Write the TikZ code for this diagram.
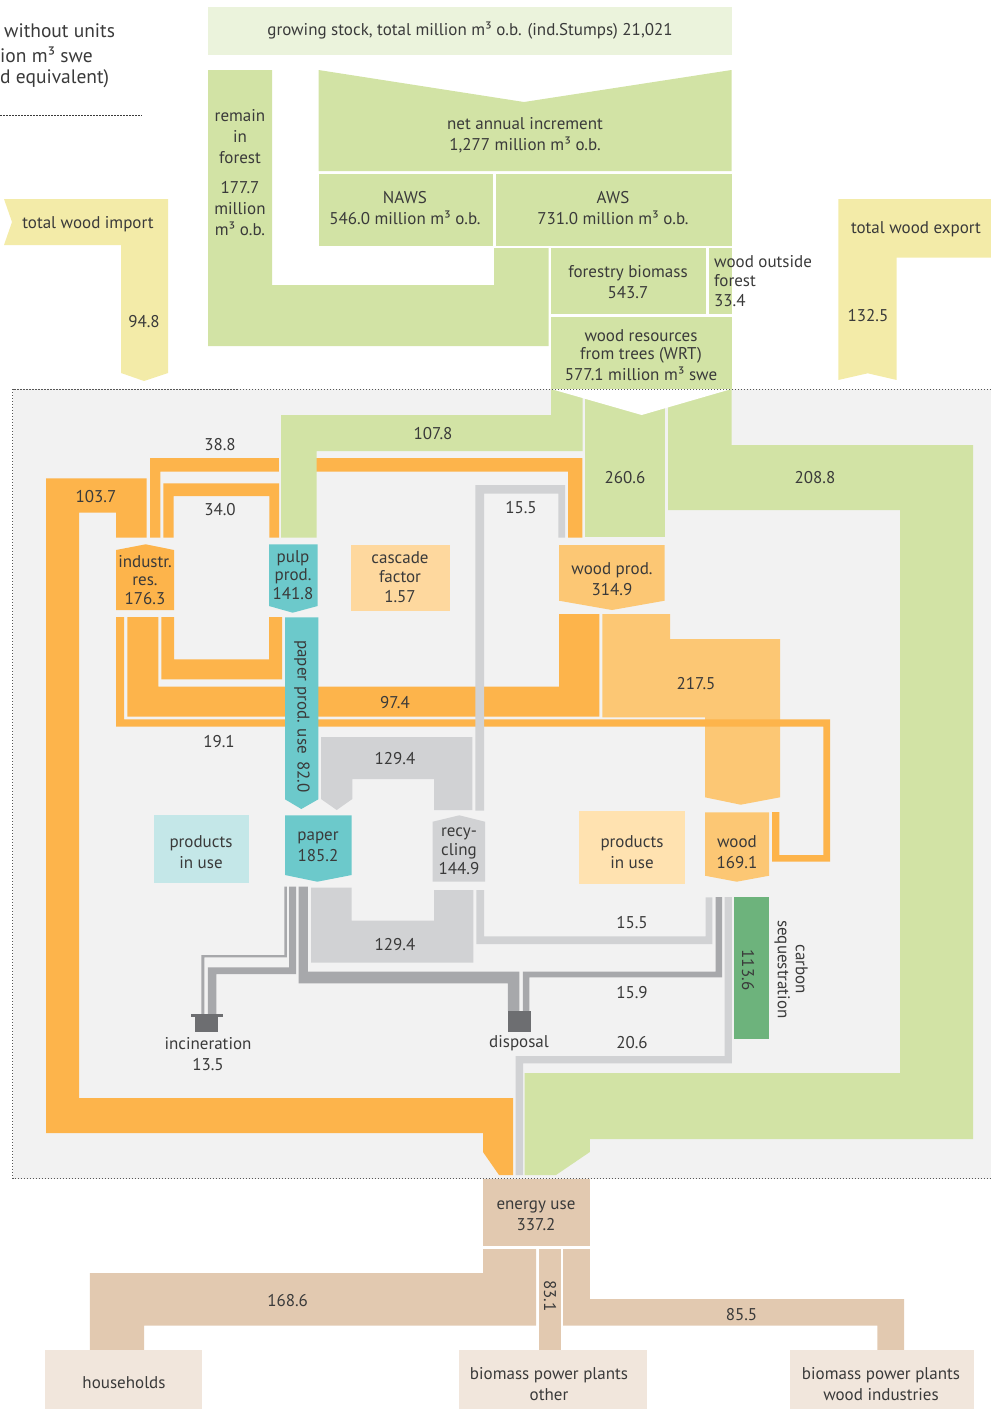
\documentclass[tikz,border=0pt]{standalone}
\usepackage{fontspec}
\setmainfont{PT Sans}

\definecolor{stockgreen}{HTML}{EBF3DC}
\definecolor{flowgreen}{HTML}{D2E3A5}
\definecolor{tradeyellow}{HTML}{F3EBA8}
\definecolor{resorange}{HTML}{FDB44B}
\definecolor{prodorange}{HTML}{FCC774}
\definecolor{cascorange}{HTML}{FED89E}
\definecolor{useorange}{HTML}{FFE2B0}
\definecolor{paperteal}{HTML}{6CC9CB}
\definecolor{useteal}{HTML}{C4E7E8}
\definecolor{recgrey}{HTML}{D1D2D4}
\definecolor{wastegrey}{HTML}{A7A8AB}
\definecolor{sinkgrey}{HTML}{6D6E71}
\definecolor{carbongreen}{HTML}{6DB37C}
\definecolor{energytan}{HTML}{E2C9B0}
\definecolor{endusetan}{HTML}{F1E6DC}
\definecolor{panelgrey}{HTML}{F2F2F2}
\definecolor{txt}{HTML}{3A3A3A}

\begin{document}
\begin{tikzpicture}[x=1pt, y=-1pt,
    lbl/.style={font=\fontsize{17}{21}\selectfont, text=txt, align=center, inner sep=0pt},
    tight/.style={lbl, font=\fontsize{17}{18.5}\selectfont}]
  \useasboundingbox (0,0) rectangle (991,1409);

  % legend text, cut at the left edge
  \node[lbl, font=\fontsize{19.5}{24}\selectfont, anchor=west] (unitsa) at (4,31) {without units};
  \node[lbl, font=\fontsize{19.5}{24}\selectfont, anchor=west] (unitsb) at (0,55) {ion m³ swe};
  \node[lbl, font=\fontsize{19.5}{24}\selectfont, anchor=west] (unitsc) at (0,79) {d equivalent)};
  \draw[txt, line width=1pt, dash pattern=on 1.5pt off 1.5pt] (0,115) -- (142,115);

  % forest
  \fill[stockgreen] (208,7) rectangle (732,55);
  \fill[flowgreen] (208,70) -- (272,70) -- (272,285) -- (494,285) -- (494,248)
    -- (548.5,248) -- (548.5,346) -- (208,346) -- cycle;
  \fill[flowgreen] (318.5,70) -- (524,102) -- (731.5,70) -- (731.5,171) -- (318.5,171) -- cycle;
  \fill[flowgreen] (318.5,173.5) rectangle (492.5,245.5);
  \fill[flowgreen] (495.5,173.5) rectangle (731.5,245.5);
  \fill[flowgreen] (551,248) rectangle (705.5,313.5);
  \fill[flowgreen] (709,248) rectangle (731.5,313.5);
  \fill[flowgreen] (551,317) rectangle (731.5,390);

  % trade
  \fill[tradeyellow] (4,199) -- (168,199) -- (168,373) -- (144,381) -- (121,373)
    -- (121,245) -- (4,245) -- (12,222) -- cycle;
  \fill[tradeyellow] (838.3,199) -- (991,199) -- (991,257.7) -- (896.7,257.7)
    -- (896.7,380) -- (867.7,373.3) -- (838.3,380) -- cycle;

  % system panel
  \fill[panelgrey] (12.5,389) rectangle (991,1178.5);

  % residues and wood products
  \fill[resorange] (146.7,537.7) -- (146.7,478.3) -- (46,478.3) -- (46,1133) -- (483,1133)
    -- (483,1152) -- (499,1175) -- (513,1175) -- (513,1098) -- (79,1098) -- (79,512.7)
    -- (116,512.7) -- (116,537.7) -- cycle;
  \fill[resorange] (150,537.7) -- (150,458) -- (582.3,458) -- (582.3,537.7) -- (568,537.7)
    -- (568,471.7) -- (160.3,471.7) -- (160.3,537.7) -- cycle;
  \fill[resorange] (163.3,537.7) -- (163.3,483.3) -- (279,483.3) -- (279,537.7)
    -- (269.3,537.7) -- (269.3,496) -- (173.7,496) -- (173.7,537.7) -- cycle;
  \fill[resorange] (161.3,617) -- (174,617) -- (174,659.3) -- (269,659.3) -- (269,617)
    -- (282,617) -- (282,679.3) -- (161.3,679.3) -- cycle;
  \fill[resorange] (127.3,617) -- (158.3,617) -- (158.3,686.7) -- (559,686.7) -- (559,614)
    -- (599.4,614) -- (599.4,716.7) -- (127.3,716.7) -- cycle;
  \fill[prodorange] (602.3,614) -- (670,614) -- (670,639) -- (780,639) -- (780,797.3)
    -- (740.7,804.7) -- (705,797.3) -- (705,717.3) -- (602.3,717.3) -- cycle;
  \fill[resorange] (116,617) -- (124,617) -- (124,719.3) -- (830,719.3) -- (830,861.7)
    -- (772,861.7) -- (772,812) -- (779.3,812) -- (779.3,855) -- (823.3,855)
    -- (823.3,726.7) -- (116,726.7) -- cycle;

  % wood resources into the system
  \fill[panelgrey] (279,458) rectangle (281,472);
  \fill[flowgreen] (281,537.7) -- (281,415) -- (551,415) -- (551,389) -- (582.5,389)
    -- (582.5,451) -- (316.7,451) -- (316.7,537.7) -- cycle;
  \fill[flowgreen] (585.3,389) rectangle (664.6,537);
  \fill[flowgreen] (668,389) -- (731.5,389) -- (731.5,445) -- (973,445) -- (973,1139)
    -- (589.8,1139) -- (589.8,1152) -- (556,1175) -- (524.7,1175) -- (524.7,1073)
    -- (900,1073) -- (900,510) -- (668,510) -- cycle;
  \fill[white] (551,389) -- (641.7,415) -- (731.5,389) -- cycle;

  % paper and recycling
  \fill[paperteal] (285,617.3) -- (318.3,617.3) -- (318.3,799.3) -- (301.3,809)
    -- (285,799.3) -- cycle;
  \fill[recgrey] (321,737) -- (472.3,737) -- (472.3,810) -- (434,810) -- (434,779)
    -- (352.3,779) -- (352.3,799) -- (336.7,810) -- (321,799) -- cycle;
  \fill[recgrey] (475.3,810.7) -- (475.3,485) -- (565,485) -- (565,537.7) -- (558.3,537.7)
    -- (558.3,493.7) -- (484,493.7) -- (484,810.7) -- cycle;
  \fill[recgrey] (311,887.7) -- (351.7,887.7) -- (351.7,920.7) -- (434,920.7) -- (434,890)
    -- (473.3,890) -- (473.3,962.7) -- (311,962.7) -- cycle;
  \fill[recgrey] (476.4,890) -- (484,890) -- (484,936.3) -- (705.7,936.3) -- (705.7,897.3)
    -- (712.3,897.3) -- (712.3,944) -- (476.4,944) -- cycle;
  \fill[recgrey] (724.6,897) -- (731.8,897) -- (731.8,1063.3) -- (523,1063.3) -- (523,1175)
    -- (515.6,1175) -- (515.6,1056) -- (724.6,1056) -- cycle;

  % losses
  \fill[wastegrey] (284.3,886.7) -- (286.8,886.7) -- (286.8,957.3) -- (204.3,957.3)
    -- (204.3,1015) -- (201.4,1015) -- (201.4,955) -- (284.3,955) -- cycle;
  \fill[wastegrey] (289,886.7) -- (296,886.7) -- (296,974) -- (216.4,974) -- (216.4,1015)
    -- (207.9,1015) -- (207.9,967.3) -- (289,967.3) -- cycle;
  \fill[wastegrey] (298.6,886.7) -- (307.9,886.7) -- (307.9,971.7) -- (519.3,971.7)
    -- (519.3,1011) -- (507.9,1011) -- (507.9,983.3) -- (298.6,983.3) -- cycle;
  \fill[wastegrey] (715.7,897) -- (722,897) -- (722,977.3) -- (529.3,977.3) -- (529.3,1011)
    -- (522.9,1011) -- (522.9,971.7) -- (715.7,971.7) -- cycle;
  \fill[sinkgrey] (191,1014) rectangle (222.7,1016.7);
  \fill[sinkgrey] (195,1014) rectangle (218,1031.7);
  \fill[sinkgrey] (507.7,1011) rectangle (530.7,1031.7);
  \fill[carbongreen] (733.6,897) rectangle (769.2,1038.7);

  % process boxes
  \fill[resorange] (116,550) -- (145.7,544.3) -- (174,550) -- (174,610) -- (116,610) -- cycle;
  \fill[paperteal] (269,544.3) -- (317.7,544.3) -- (317.7,606) -- (292.7,612.7) -- (269,606) -- cycle;
  \fill[cascorange] (351,545) rectangle (449.7,610.7);
  \fill[prodorange] (559,545) -- (664.6,545) -- (664.6,600.7) -- (612,610) -- (559,600.7) -- cycle;
  \fill[useteal] (154,815.3) rectangle (248.7,882.7);
  \fill[paperteal] (285,815.3) -- (351.7,815.3) -- (351.7,875) -- (317.3,881.7) -- (285,875) -- cycle;
  \fill[recgrey] (432.7,821.7) -- (459.3,815.3) -- (485,821.7) -- (485,881.7) -- (432.7,881.7) -- cycle;
  \fill[useorange] (579,811) rectangle (685,883.7);
  \fill[prodorange] (705,812.3) -- (769.2,812.3) -- (769.2,875.7) -- (736.7,881.7) -- (705,875.7) -- cycle;

  \draw[txt!85, line width=1pt, dash pattern=on 1.5pt off 1.5pt]
    (991,389) -- (12.5,389) -- (12.5,1178.5) -- (991,1178.5);

  % energy use
  \fill[energytan] (483,1179.3) rectangle (589.8,1245.7);
  \fill[energytan] (483,1249) -- (536,1249) -- (536,1325.7) -- (144,1325.7) -- (144,1350)
    -- (89.8,1350) -- (89.8,1273) -- (483,1273) -- cycle;
  \fill[energytan] (539.2,1249) rectangle (561.3,1350);
  \fill[energytan] (563.2,1249) -- (589.8,1249) -- (589.8,1299) -- (904,1299) -- (904,1350)
    -- (877.4,1350) -- (877.4,1325.7) -- (563.2,1325.7) -- cycle;
  \fill[endusetan] (45,1350) rectangle (202.3,1408.5);
  \fill[endusetan] (459,1350) rectangle (646.7,1408.5);
  \fill[endusetan] (790,1350) rectangle (973.5,1408.5);

  % texts
  \node[lbl] (stock) at (470,31) {growing stock, total million m³ o.b. (ind.Stumps) 21,021};
  \node[lbl] (remain) at (240,137) {remain\\in\\forest};
  \node[lbl] (remainval) at (240,209) {177.7\\million\\m³ o.b.};
  \node[lbl] (nai) at (525,135.5) {net annual increment\\1,277 million m³ o.b.};
  \node[lbl] (naws) at (405,208.5) {NAWS\\546.0 million m³ o.b.};
  \node[lbl] (aws) at (613,208.5) {AWS\\731.0 million m³ o.b.};
  \node[lbl] (biomass) at (628,282.5) {forestry biomass\\543.7};
  \node[lbl, font=\fontsize{17}{19.5}\selectfont, align=left, anchor=west] (outside) at (714,281)
    {wood outside\\forest\\33.4};
  \node[lbl, font=\fontsize{17}{18}\selectfont] (wrt) at (641,355)
    {wood resources\\from trees (WRT)\\[3pt]577.1 million m³ swe};
  \node[lbl] (import) at (88,224) {total wood import};
  \node[lbl] (importval) at (144,322) {94.8};
  \node[lbl] (export) at (916,229) {total wood export};
  \node[lbl] (exportval) at (868,316) {132.5};

  \node[lbl] (fres) at (220,445) {38.8};
  \node[lbl] (fpulpin) at (433,434) {107.8};
  \node[lbl] (fsawin) at (625,478) {260.6};
  \node[lbl] (fenergy) at (815,478) {208.8};
  \node[lbl] (fresenergy) at (96,497) {103.7};
  \node[lbl] (frespulp) at (220,510) {34.0};
  \node[lbl] (frecwood) at (521,508) {15.5};
  \node[tight] (indres) at (145,580) {industr.\\res.\\176.3};
  \node[tight] (pulp) at (293,575) {pulp\\prod.\\141.8};
  \node[lbl, font=\fontsize{17}{19.5}\selectfont] (cascade) at (400,577) {cascade\\factor\\1.57};
  \node[lbl] (woodprod) at (612,578.7) {wood prod.\\314.9};
  \node[lbl] (fwood) at (696,684) {217.5};
  \node[lbl] (fresback) at (395,703) {97.4};
  \node[lbl] (freswood) at (219,742) {19.1};
  \node[lbl, rotate=-90] (paperuse) at (302,716.5) {paper prod. use\, 82.0};
  \node[lbl] (frecpaper) at (395,759) {129.4};
  \node[lbl] (useteal) at (201,852) {products\\in use};
  \node[lbl] (paper) at (318,846.7) {paper\\185.2};
  \node[lbl, font=\fontsize{17}{19}\selectfont] (recycling) at (459,851) {recy-\\cling\\144.9};
  \node[lbl] (useorange) at (632,852) {products\\in use};
  \node[lbl] (wood) at (737,852) {wood\\169.1};
  \node[lbl] (fpaperrec) at (395,945) {129.4};
  \node[lbl] (fwoodrec) at (632,923) {15.5};
  \node[lbl] (fwooddisp) at (632,993) {15.9};
  \node[lbl] (fwoodenergy) at (632,1043) {20.6};
  \node[lbl, rotate=-90] (carbonval) at (748,970) {113.6};
  \node[lbl, rotate=-90, font=\fontsize{17}{18}\selectfont] (carbon) at (791,969.5) {carbon\\sequestration};
  \node[lbl] (incin) at (208,1054.5) {incineration\\13.5};
  \node[lbl] (disposal) at (519,1043) {disposal};

  \node[lbl] (energy) at (536,1215.5) {energy use\\337.2};
  \node[lbl] (fhouse) at (287.6,1301) {168.6};
  \node[lbl, rotate=-90] (fother) at (550,1295.7) {83.1};
  \node[lbl] (fwoodind) at (741.5,1314.3) {85.5};
  \node[lbl] (households) at (124,1383) {households};
  \node[lbl] (bppother) at (549,1384) {biomass power plants\\other};
  \node[lbl] (bppwood) at (881,1384) {biomass power plants\\wood industries};
\end{tikzpicture}
\end{document}
